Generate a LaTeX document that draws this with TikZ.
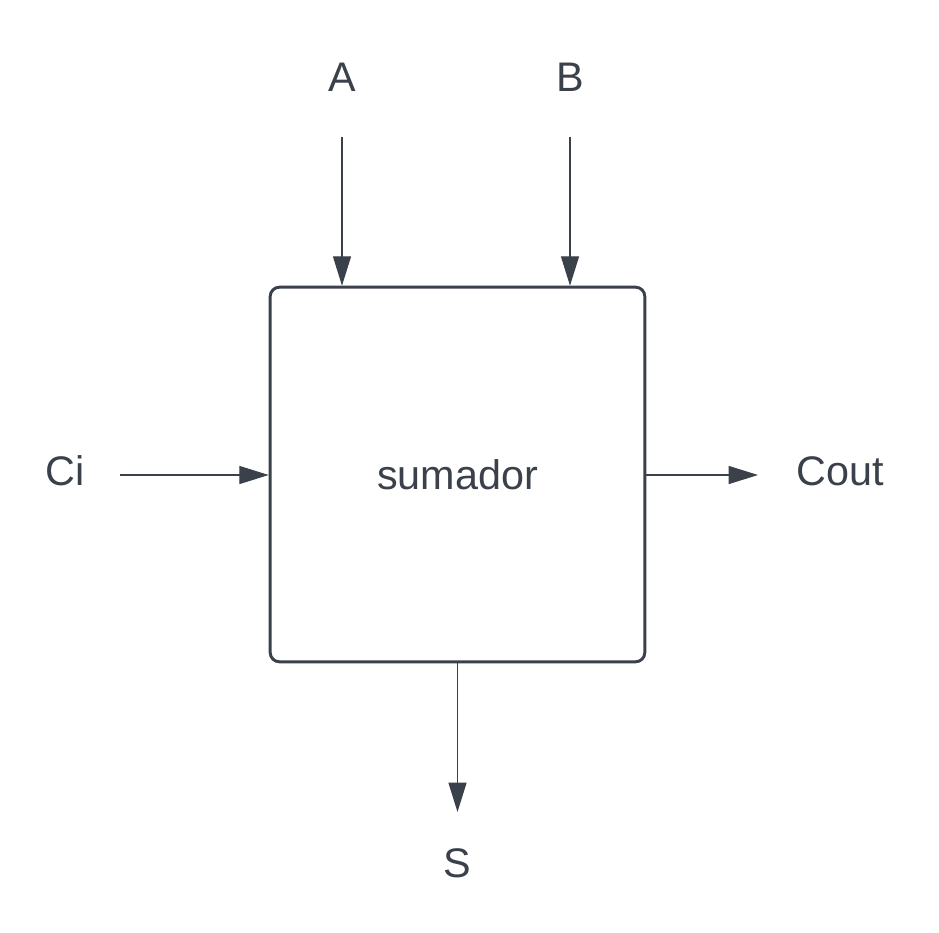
\documentclass[tikz,border=0pt]{standalone}
\usepackage{fontspec}
\setmainfont{Liberation Sans}
\usepackage{xcolor}
\definecolor{slate}{HTML}{3A414A}
\usetikzlibrary{arrows.meta,calc,positioning}
\tikzset{
    x=0.75pt,y=-0.75pt,
    block/.style ={rectangle, draw=slate, line width=2.2pt, rounded corners=7pt, minimum width=281pt, minimum height=281pt, inner sep=0pt, text=slate, font=\fontsize{31}{36}\selectfont},
    lbl/.style = {inner sep=0pt, text=slate, font=\fontsize{31}{36}\selectfont},
    wire/.style = {draw=slate, line width=0.9pt, -{Triangle[length=22pt,width=13.5pt]}}
}
\begin{document}
\begin{tikzpicture}
      \useasboundingbox (0,0) rectangle (939,932);
      \node[block] (sum) at (457.5,474.5) {sumador};
      \node[lbl] (A) at (342,77) {A};
      \node[lbl] (B) at (570,77) {B};
      \node[lbl] (Ci) at (65,471) {Ci};
      \node[lbl] (Cout) at (840,471) {Cout};
      \node[lbl] (S) at (457,863) {S};

      \coordinate (A in) at (342,137);
      \coordinate (B in) at (570,137);
      \coordinate (Ci in) at (120,475);
      \coordinate (Cout out) at (758,475);
      \coordinate (S out) at (457.5,812);

      \path[wire] (A in) -- (A in |- sum.north);
      \path[wire] (B in) -- (B in |- sum.north);
      \path[wire] (Ci in) -- (Ci in -| sum.west);
      \path[wire] (Cout out -| sum.east) -- (Cout out);
      \path[wire] (sum.south) -- (S out);
    \end{tikzpicture}
\end{document}
